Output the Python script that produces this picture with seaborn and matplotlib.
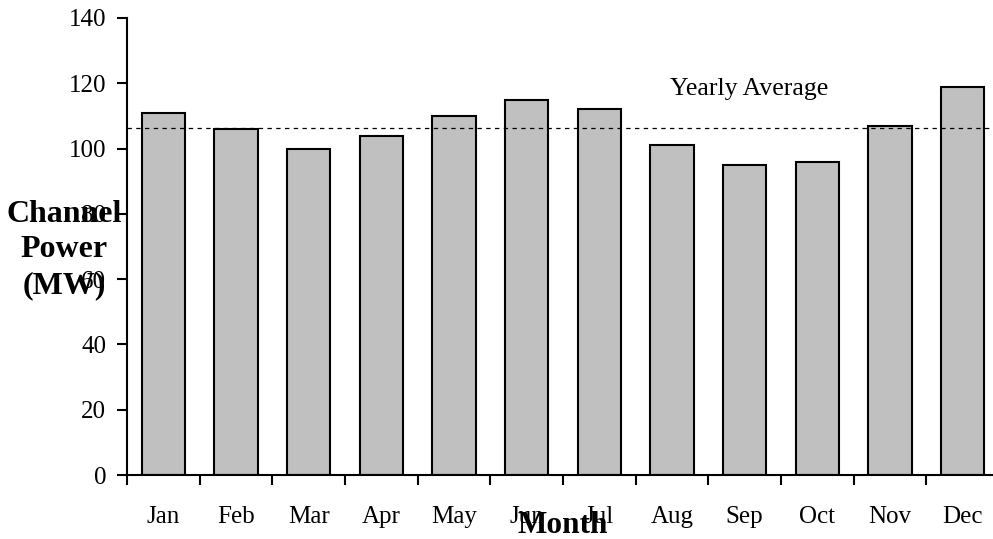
import matplotlib
matplotlib.use("Agg")
import matplotlib.pyplot as plt
import seaborn as sns
import pandas as pd
import numpy as np
from matplotlib.ticker import FixedLocator, NullFormatter

months = ["Jan", "Feb", "Mar", "Apr", "May", "Jun", "Jul", "Aug", "Sep", "Oct", "Nov", "Dec"]
power = [111, 106, 100, 104, 110, 115, 112, 101, 95, 96, 107, 119]
y_ticks = [0, 20, 40, 60, 80, 100, 120, 140]

sns.set_style("white")
plt.rcParams['font.family'] = ['Liberation Serif', 'DejaVu Serif']
plt.rcParams['text.color'] = 'black'
plt.rcParams['axes.labelcolor'] = 'black'
plt.rcParams['xtick.color'] = 'black'
plt.rcParams['ytick.color'] = 'black'

df = pd.DataFrame({"Month": months, "Power": power})
avg = float(np.mean(power))

fig = plt.figure(figsize=(9.93, 5.39), dpi=100)
ax = fig.add_axes([127/993, 64/539, 872/993, 457/539])

sns.barplot(data=df, x="Month", y="Power", ax=ax, color="#C0C0C0", saturation=1,
            edgecolor="black", linewidth=1.5, width=0.6)

ax.set_xlim(-0.5, 11.5)
ax.set_ylim(0, 140)
ax.set_yticks(y_ticks)

ax.axhline(avg, color="black", linestyle=(0, (3.5, 3.5)), linewidth=0.9, zorder=3)
ax.text(8.06, 116.3, "Yearly Average", ha="center", va="baseline", fontsize=18.5,
        color="black")

for s in ["top", "right"]:
    ax.spines[s].set_visible(False)
for s in ["left", "bottom"]:
    ax.spines[s].set_color("black")
    ax.spines[s].set_linewidth(1.5)

ax.tick_params(axis="y", which="major", direction="out", length=7, width=1.5,
               color="black", labelcolor="black", labelsize=18, pad=8, left=True)
ax.tick_params(axis="x", which="major", length=0, labelsize=18, pad=22,
               labelcolor="black")
ax.xaxis.set_minor_locator(FixedLocator(np.arange(-0.5, 11.6, 1.0)))
ax.xaxis.set_minor_formatter(NullFormatter())
ax.tick_params(axis="x", which="minor", direction="out", length=7, width=1.5,
               color="black", bottom=True)

ax.set_xlabel("Month", fontsize=22.5, fontweight="bold", labelpad=0, color="black")
ax.xaxis.set_label_coords(0.5, -0.127)
ax.xaxis.label.set_va("baseline")
ax.set_ylabel("Channel\nPower\n(MW)", fontsize=23, fontweight="bold", rotation=0,
              ha="center", va="center", linespacing=1.3, color="black")
ax.yaxis.set_label_coords(-0.072, 0.493)

fig.savefig("out.png", dpi=100)
